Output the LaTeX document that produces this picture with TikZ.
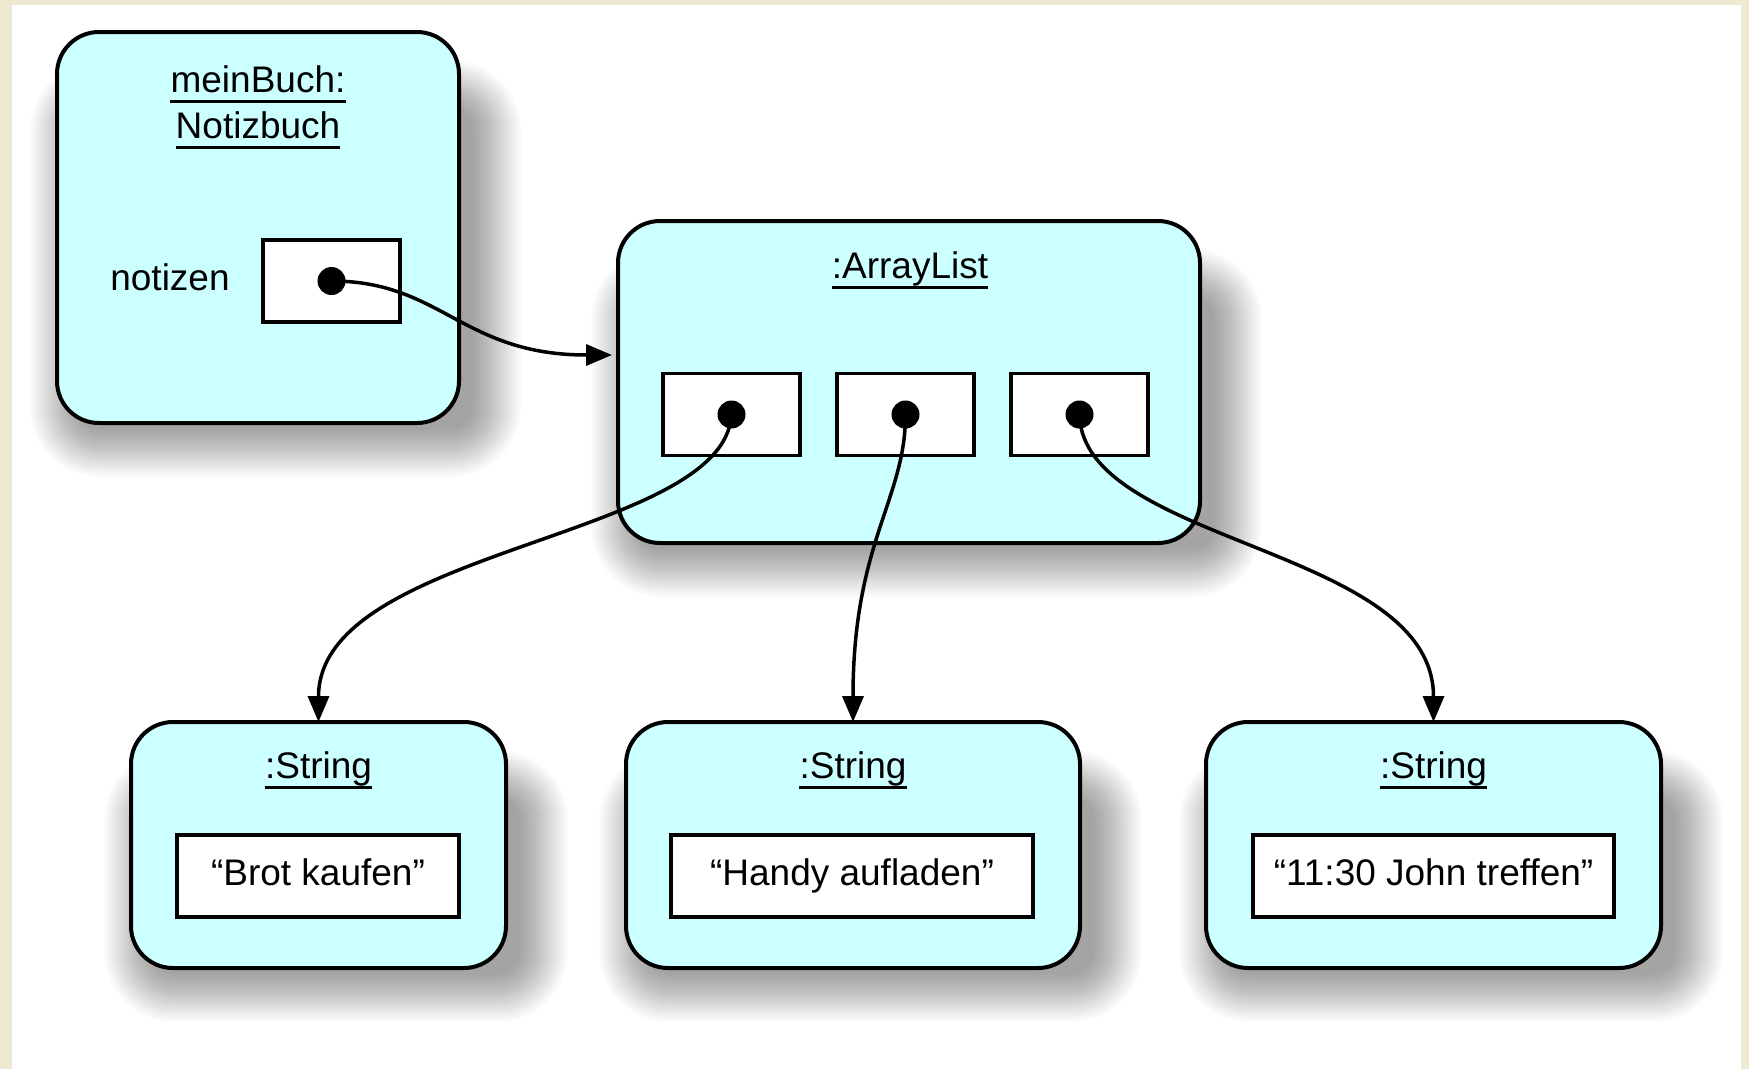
\documentclass[tikz,border=0pt]{standalone}
\usepackage{fontspec}
\setmainfont{Liberation Sans}
\usetikzlibrary{arrows.meta,calc}
\definecolor{objfill}{RGB}{204,255,255}
\definecolor{pagebeige}{RGB}{237,233,210}
\pgfdeclarelayer{background}
\pgfsetlayers{background,main}

% soft drop shadow behind a named object node
\newcommand\dropshadow[1]{%
  \begin{pgfonlayer}{background}
    \foreach \d in {-24,-22,...,24}{
      \pgfmathsetmacro\rr{46+\d}
      \fill[black, fill opacity=0.0155, rounded corners=\rr pt]
        ($(#1.north west)+({-3-\d},{52-\d})$) rectangle
        ($(#1.south east)+({38+\d},{30+\d})$);
    }
  \end{pgfonlayer}}

% underlined text label
\newcommand\ultext[3]{%
  \node[txt] (#1) at #2 {#3};
  \draw[uline] ([yshift=-9.5pt]#1.base west) -- ([yshift=-9.5pt]#1.base east);}

\begin{document}
\begin{tikzpicture}[x=1pt,y=-1pt,
  font=\fontsize{37}{44}\selectfont,
  obj/.style={draw, line width=4pt, fill=objfill, rounded corners=42pt,
              inner sep=0pt, outer sep=0pt},
  slotbox/.style={draw, line width=3.5pt, fill=white, minimum width=137pt,
                  minimum height=82pt, inner sep=0pt, outer sep=0pt},
  valbox/.style={draw, line width=3.5pt, fill=white, minimum height=82pt,
                 inner sep=0pt, outer sep=0pt},
  refdot/.style={circle, fill=black, minimum size=28pt, inner sep=0pt},
  txt/.style={inner sep=0pt, anchor=base},
  uline/.style={line width=3pt},
  refarrow/.style={line width=3.5pt, -{Triangle[length=26pt,width=21pt]}}
]
\useasboundingbox (0,0) rectangle (1749,1069);

% page
\begin{pgfonlayer}{background}
  \fill[pagebeige] (0,0) rectangle (1749,1069);
  \fill[white] (12,5) rectangle (1741,1069);
\end{pgfonlayer}

% object boxes
\node[obj, minimum width=402pt, minimum height=391pt] (nb) at (258,227.5) {};
\node[obj, minimum width=582pt, minimum height=322pt] (al) at (909,382) {};
\node[obj, minimum width=375pt, minimum height=246pt] (s1) at (318.5,845) {};
\node[obj, minimum width=454pt, minimum height=246pt] (s2) at (853,845) {};
\node[obj, minimum width=455pt, minimum height=246pt] (s3) at (1433.5,845) {};

\dropshadow{nb}
\dropshadow{al}
\dropshadow{s1}
\dropshadow{s2}
\dropshadow{s3}

% meinBuch:Notizbuch
\ultext{nbA}{(258,92)}{meinBuch:}
\ultext{nbB}{(258,138)}{Notizbuch}
\node[txt] (notiz) at (170,290) {notizen};
\node[slotbox] (slot0) at (331.5,281) {};
\node[refdot] (d0) at (slot0.center) {};

% ArrayList
\ultext{alT}{(910,278)}{:ArrayList}
\node[slotbox] (slot1) at (731.5,414.5) {};
\node[slotbox] (slot2) at (905.5,414.5) {};
\node[slotbox] (slot3) at (1079.5,414.5) {};
\node[refdot] (d1) at (slot1.center) {};
\node[refdot] (d2) at (slot2.center) {};
\node[refdot] (d3) at (slot3.center) {};

% strings
\ultext{s1T}{(318.5,778)}{:String}
\ultext{s2T}{(853,778)}{:String}
\ultext{s3T}{(1433.5,778)}{:String}
\node[valbox, minimum width=282pt] (v1) at (318,876) {};
\node[valbox, minimum width=362pt] (v2) at (852,876) {};
\node[valbox, minimum width=361pt] (v3) at (1433.5,876) {};
\node[txt] at ([yshift=-9pt]v1.center) {“Brot kaufen”};
\node[txt] at ([yshift=-9pt]v2.center) {“Handy aufladen”};
\node[txt] at ([yshift=-9pt]v3.center) {“11:30 John treffen”};

% references
\coordinate (alIn) at ([xshift=-6pt,yshift=27pt]al.west);
\draw[refarrow] (d0.center) .. controls +(110,0) and +(-150,0) .. (alIn);
\draw[refarrow] (d1.center) .. controls +(-7,125) and +(0,-175) .. (s1.north);
\draw[refarrow] (d2.center) .. controls +(0,85) and +(0,-180) .. (s2.north);
\draw[refarrow] (d3.center) .. controls +(3,130) and +(0,-175) .. (s3.north);
\end{tikzpicture}
\end{document}
